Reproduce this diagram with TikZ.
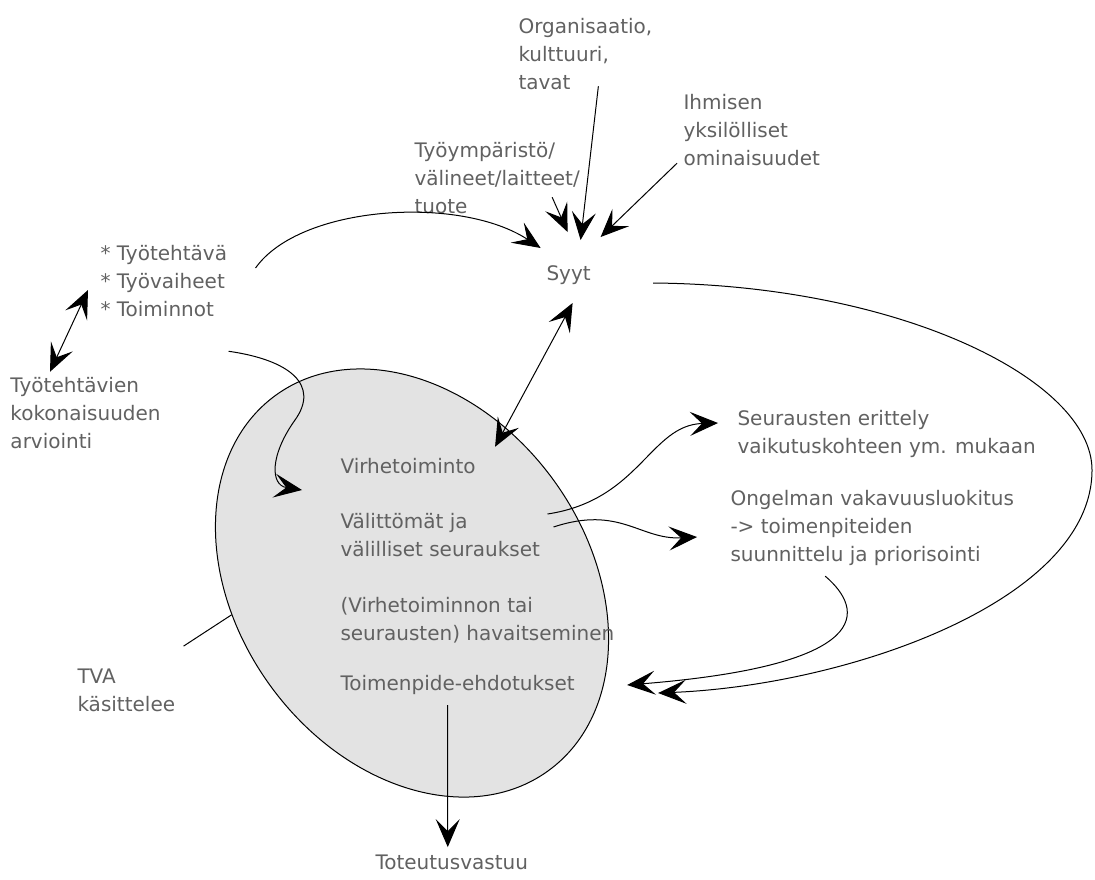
\documentclass[tikz,border=0pt]{standalone}
\usepackage{fontspec}
\setmainfont{DejaVu Sans}
\usetikzlibrary{arrows.meta,shapes.geometric}
\definecolor{txtgray}{gray}{0.38}
\definecolor{ovalfill}{gray}{0.89}
\begin{document}
\begin{tikzpicture}[x=0.5pt,y=-0.5pt,line width=0.5pt]
  \tikzstyle{every node}=[font=\fontsize{10}{14}\selectfont,text=txtgray,align=left,anchor=west,inner sep=0pt]
  \tikzstyle{arr}=[-{Stealth[length=14pt,width=12pt,inset=6pt]}]
  \tikzstyle{dbl}=[{Stealth[length=14pt,width=12pt,inset=6pt]}-{Stealth[length=14pt,width=12pt,inset=6pt]}]
  \useasboundingbox (0,0) rectangle (1095,879);
  % the oval
  \node[ellipse,draw,fill=ovalfill,minimum width=232pt,minimum height=175pt,rotate=-54,anchor=center] (tva) at (412,583) {};
  % texts
  \node (org) at (518,54) {Organisaatio,\\kulttuuri,\\tavat};
  \node (ihm) at (683,130) {Ihmisen\\yksilölliset\\ominaisuudet};
  \node (tyo) at (414,178) {Työympäristö/\\välineet/laitteet/\\tuote};
  \node (syyt) at (546,275) {Syyt};
  \node (teht) at (100,281) {* Työtehtävä\\* Työvaiheet\\* Toiminnot};
  \node (arv) at (10,413) {Työtehtävien\\kokonaisuuden\\arviointi};
  \node (virhe) at (340,466) {Virhetoiminto};
  \node (valit) at (340,535) {Välittömät ja\\välilliset seuraukset};
  \node (havait) at (340,620) {(Virhetoiminnon tai\\seurausten) havaitseminen};
  \node (toimen) at (340,685) {Toimenpide-ehdotukset};
  \node (seur) at (737,434) {Seurausten erittely\\vaikutuskohteen ym. mukaan};
  \node (ong) at (730,528) {Ongelman vakavuusluokitus\\-> toimenpiteiden\\suunnittelu ja priorisointi};
  \node (tvalbl) at (77,690) {TVA\\käsittelee};
  \node (tot) at (375,862) {Toteutusvastuu};
  % causes
  \draw[arr] ([shift={(13,-4)}]org.south) -- ([shift={(12,-25)}]syyt.north);
  \draw[arr] ([shift={(55,-17)}]tyo.south) -- ([shift={(-1,-33)}]syyt.north);
  \draw[arr] ([shift={(-6,-3)}]ihm.south west) -- ([shift={(32,-28)}]syyt.north);
  \draw[arr] ([shift={(28,-13)}]teht.east) .. controls (300,205) and (460,195) .. ([shift={(-28,-17)}]syyt.north);
  \draw[dbl] ([shift={(4,18)}]syyt.south) -- ([shift={(19,-11)}]virhe.north east);
  \draw[dbl] ([shift={(-12,9)}]teht.west) -- ([shift={(40,-5)}]arv.north west);
  % into the oval
  \draw[arr] ([shift={(1,34)}]teht.south east) .. controls (290,360) and (320,385) .. (295,420)
    .. controls (270,455) and (270,485) .. ([shift={(-38,24)}]virhe.west);
  % consequences
  \draw[arr] ([shift={(7,-21)}]valit.east) .. controls (640,500) and (650,425) .. ([shift={(-19,-11)}]seur.west);
  \draw[arr] ([shift={(13,-8)}]valit.east) .. controls (620,505) and (640,540) .. ([shift={(-33,9)}]ong.west);
  \draw[arr] ([shift={(-47,10)}]ong.south) .. controls (865,610) and (875,665) .. ([shift={(52,0)}]toimen.east);
  \draw[arr] ([shift={(62,8)}]syyt.east) .. controls (900,285) and (1092,380) .. (1092,470)
    .. controls (1092,600) and (850,685) .. ([shift={(83,8)}]toimen.east);
  \draw[arr] ([shift={(-10,10)}]toimen.south) -- ([shift={(-4,-7)}]tot.north);
  \draw ([shift={(8,-22)}]tvalbl.north east) -- (tva.244);
\end{tikzpicture}
\end{document}
